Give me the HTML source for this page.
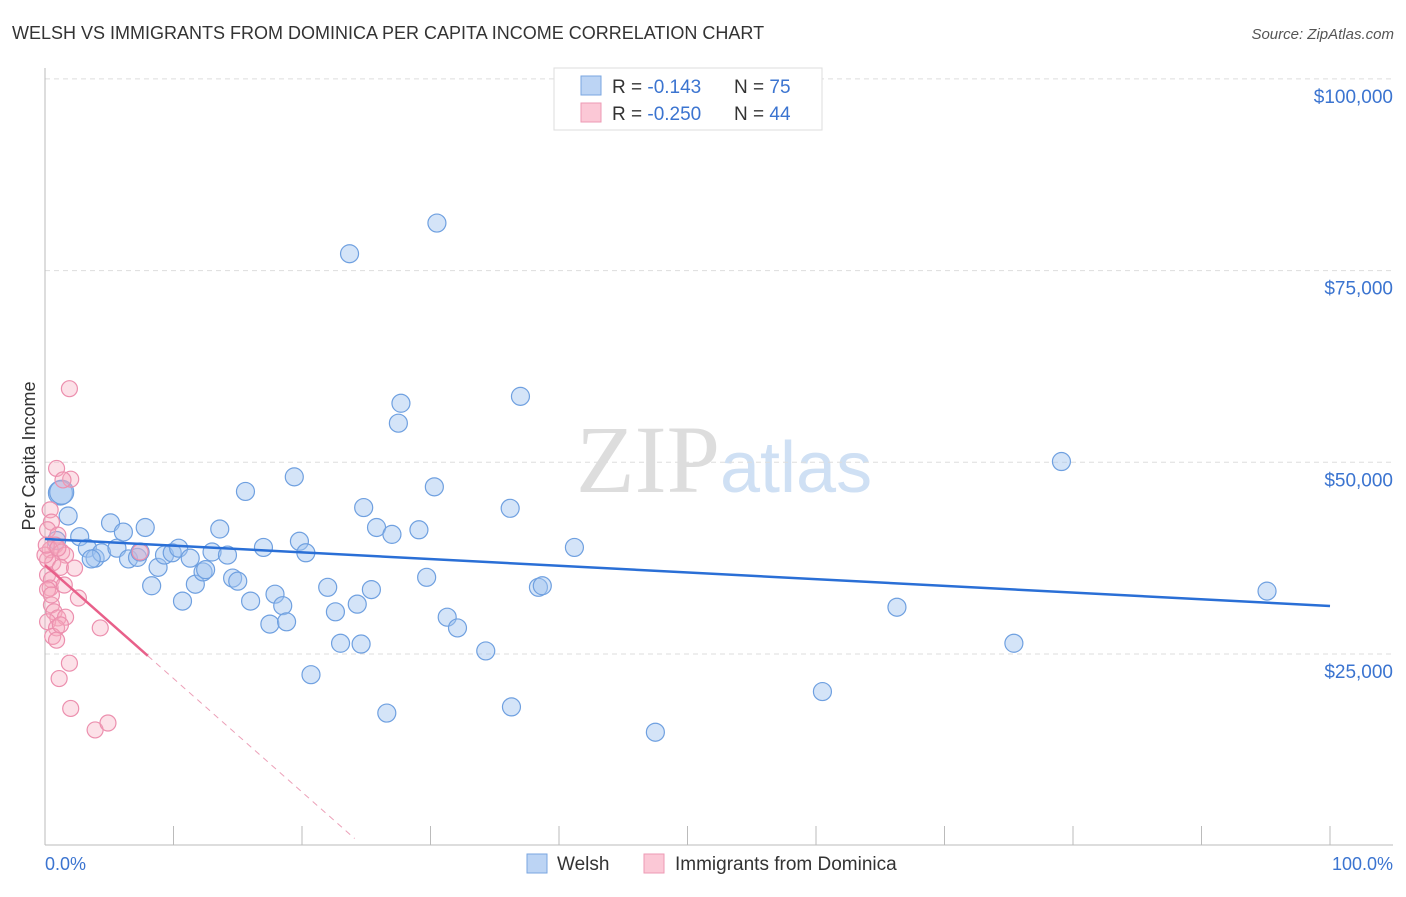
<!DOCTYPE html>
<html><head><meta charset="utf-8"><style>
body{margin:0;background:#fff;font-family:"Liberation Sans",sans-serif}
#c{position:relative;width:1406px;height:892px}
</style></head><body>
<div id="c">
<svg id="s" width="1406" height="892" xmlns="http://www.w3.org/2000/svg">
<text x="12" y="39" font-size="18" fill="#333">WELSH VS IMMIGRANTS FROM DOMINICA PER CAPITA INCOME CORRELATION CHART</text>
<text x="1394" y="39" font-size="15" fill="#555" font-style="italic" text-anchor="end">Source: ZipAtlas.com</text>
<text x="35" y="456" font-size="18" fill="#333" transform="rotate(-90 35 456)" text-anchor="middle">Per Capita Income</text>
<text x="720" y="492" font-size="96" fill="#ddd" font-family="Liberation Serif" text-anchor="end">ZIP</text>
<text x="720" y="492" font-size="72" fill="#cfe0f4">atlas</text>
<g id="grid"></g><g id="marks"></g>
<text x="45" y="870" font-size="18" fill="#3b74d0">0.0%</text>
<text x="1393" y="870" font-size="18" fill="#3b74d0" text-anchor="end">100.0%</text>
<g>
<rect x="554" y="68" width="268" height="62" fill="#fff" stroke="#ddd"/>
<rect x="581" y="76" width="20" height="19" fill="#bcd4f4" stroke="#7aa6e0"/>
<rect x="581" y="103" width="20" height="19" fill="#fbc8d6" stroke="#ee9ab4"/>
<text x="612" y="93" font-size="19" fill="#333">R = <tspan fill="#3b74d0"> -0.143</tspan><tspan x="734">N = </tspan><tspan fill="#3b74d0">75</tspan></text>
<text x="612" y="120" font-size="19" fill="#333">R = <tspan fill="#3b74d0">-0.250</tspan><tspan x="734">N = </tspan><tspan fill="#3b74d0">44</tspan></text>
</g>
<g>
<rect x="527" y="854" width="20" height="19" fill="#bcd4f4" stroke="#7aa6e0"/>
<text x="557" y="870" font-size="19" fill="#333">Welsh</text>
<rect x="644" y="854" width="20" height="19" fill="#fbc8d6" stroke="#ee9ab4"/>
<text x="675" y="870" font-size="19" fill="#333">Immigrants from Dominica</text>
</g>
</svg></div>
<script>
const yTicks=[25000,50000,75000,100000];
const yTickLabels=["$25,000","$50,000","$75,000","$100,000"];
const welshX=[1.2,1.3,1.8,2.7,3.3,3.9,4.4,5.1,5.6,6.1,6.5,7.2,7.8,8.3,8.8,9.3,9.9,10.4,10.7,11.3,11.7,12.3,13.0,13.6,14.2,14.6,15.0,15.6,16.0,17.0,17.5,17.9,18.5,18.8,19.4,19.8,20.3,20.7,22.0,22.6,23.0,23.7,24.3,24.6,24.8,25.4,25.8,26.6,27.0,27.5,27.7,29.1,29.7,30.3,30.5,31.3,32.1,34.3,36.2,36.3,37.0,38.4,38.7,41.2,47.5,60.5,66.3,75.4,79.1,95.1,0.9,3.6,12.5,7.4];
const welshY=[46.0,46.1,43.0,40.3,38.8,37.5,38.2,42.1,38.8,40.9,37.4,37.6,41.5,33.9,36.3,37.9,38.2,38.8,31.9,37.5,34.1,35.7,38.3,41.3,37.9,34.9,34.5,46.2,31.9,38.9,28.9,32.8,31.3,29.2,48.1,39.7,38.2,22.3,33.7,30.5,26.4,77.2,31.5,26.3,44.1,33.4,41.5,17.3,40.6,55.1,57.7,41.2,35.0,46.8,81.2,29.8,28.4,25.4,44.0,18.1,58.6,33.7,33.9,38.9,14.8,20.1,31.1,26.4,50.1,33.2,39.8,37.4,36.0,38.3];
const domX=[1.9,0.9,2.0,1.4,0.4,0.5,0.2,1.0,0.8,0.4,1.3,1.6,0.2,0.6,1.2,2.3,0.2,0.5,0.4,2.6,0.5,0.7,1.0,1.6,0.2,0.9,4.3,0.6,0.9,1.9,1.1,2.0,3.9,4.9,7.4,0.0,0.1,0.2,1.0,1.5,0.5,1.2];
const domY=[59.6,49.2,47.8,47.7,43.8,42.2,41.2,40.5,39.2,38.6,38.3,37.9,37.3,36.9,36.3,36.2,35.3,34.7,33.6,32.3,31.4,30.5,29.7,29.8,29.2,28.4,28.4,27.3,26.8,23.8,21.8,17.9,15.1,16.0,38.3,37.9,39.2,33.4,38.8,34.0,32.7,28.8];
const welshTrend=[40.0,-0.0874];
const domTrend=[36.6,-1.48];
const domSolidEnd=8.0, domDashEnd=24.1;
const NS="http://www.w3.org/2000/svg";
const X=p=>45+p*12.85, Y=v=>845.7-v/25000*191.7, Yk=k=>Y(k*1000);
function mk(t,a,par){const e=document.createElementNS(NS,t);for(const k in a)e.setAttribute(k,a[k]);document.getElementById(par).appendChild(e);return e;}
yTicks.forEach((t,i)=>{
 let l=mk('line',{x1:45,x2:1393,y1:Y(t),y2:Y(t),stroke:'#ddd','stroke-dasharray':'5,4'},'grid');
 
 
 let tx=mk('text',{x:1393,y:Y(t)+24,'font-size':19,fill:'#3b74d0','text-anchor':'end'},'grid');
 tx.textContent=yTickLabels[i];
 
 
});
let ax=mk('line',{x1:45,x2:1393,y1:845,y2:845,stroke:'#bbb'},'grid');


let ay=mk('line',{x1:45,x2:45,y1:68,y2:845,stroke:'#bbb'},'grid');


for(let i=1;i<=10;i++){let t=mk('line',{x1:X(i*10),x2:X(i*10),y1:826,y2:845,stroke:'#bbb'},'grid');
 
 }
welshX.forEach((x,i)=>{let r=i<2?12:9;let c=mk('circle',{cx:X(x),cy:Yk(welshY[i]),r:r,fill:'rgba(160,196,240,0.45)',stroke:'#6fa0e0','stroke-width':1.2},'marks');
 
 });
domX.forEach((x,i)=>{let c=mk('circle',{cx:X(x),cy:Yk(domY[i]),r:8,fill:'rgba(245,170,190,0.35)',stroke:'#ec8fae','stroke-width':1.2},'marks');
 
 });
let wl=mk('line',{x1:X(0),y1:Yk(welshTrend[0]),x2:X(100),y2:Yk(welshTrend[0]+welshTrend[1]*100),stroke:'#2a6fd6','stroke-width':2.5},'marks');


let dl=mk('line',{x1:X(0),y1:Yk(domTrend[0]),x2:X(domSolidEnd),y2:Yk(domTrend[0]+domTrend[1]*domSolidEnd),stroke:'#e8608a','stroke-width':2.5},'marks');


let dd=mk('line',{x1:X(domSolidEnd),y1:Yk(domTrend[0]+domTrend[1]*domSolidEnd),x2:X(domDashEnd),y2:Yk(domTrend[0]+domTrend[1]*domDashEnd),stroke:'#eca0b8','stroke-width':1,'stroke-dasharray':'6,5'},'marks');


</script>
</body></html>
